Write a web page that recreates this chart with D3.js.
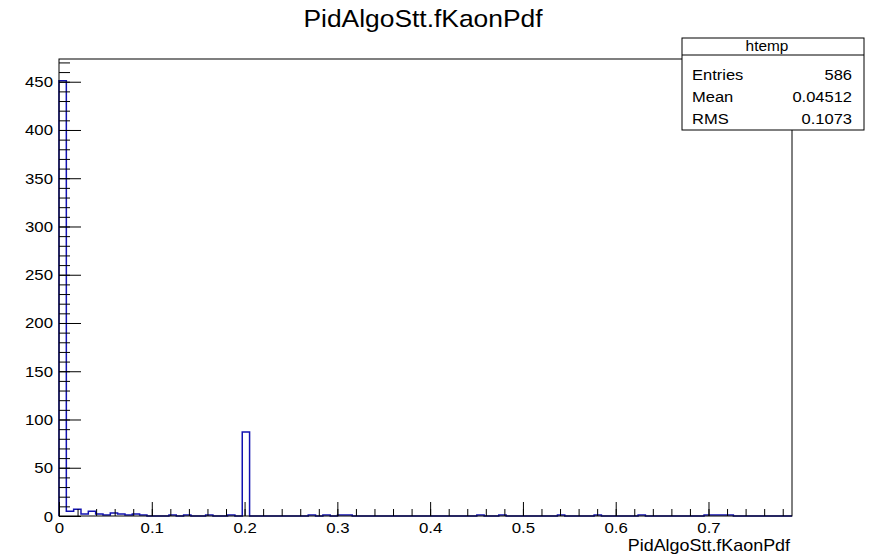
<!DOCTYPE html>
<html><head><meta charset="utf-8">
<script src="https://cdn.jsdelivr.net/npm/d3@7"></script>
<style>body{margin:0;background:#fff}svg{display:block}text{font-family:"Liberation Sans",Arial,Helvetica,sans-serif;fill:#000}</style>
</head><body>
<script>
// ---- data ----
const title = "PidAlgoStt.fKaonPdf";
const xTitle = "PidAlgoStt.fKaonPdf";
const xMin = 0, xMax = 0.79, nBins = 100;
const counts = [
 451,5,7,2,5,2,1,3,2,1, 2,1,0,0,0,1,0,1,0,0,
 1,0,0,1,0,87,0,0,0,0, 0,0,0,0,1,0,1,0,1,1,
 0,0,0,0,0,0,0,0,0,0, 0,0,0,0,0,0,0,1,0,0,
 1,0,0,0,0,0,0,0,1,0, 0,0,0,1,0,0,0,0,0,1,
 0,0,0,0,0,0,0,0,1,1, 1,1,0,0,0,0,0,0,0,0];
const xTickValues = [0,0.1,0.2,0.3,0.4,0.5,0.6,0.7];
const xTickLabels = ["0","0.1","0.2","0.3","0.4","0.5","0.6","0.7"];
const yTickValues = [0,50,100,150,200,250,300,350,400,450];
const statsName = "htemp";
const statsLabels = ["Entries","Mean","RMS"];
const statsValues = ["586","0.04512","0.1073"];

// ---- layout ----
const W = 871, H = 557;
const L = 59, R = 792, T = 59, B = 516;
const sx = 1.12;
const svg = d3.select("body").append("svg").attr("width", W).attr("height", H);

const ymax = d3.max(counts) * 1.05;
const x = d3.scaleLinear().domain([xMin, xMax]).range([L, R]);
const y = d3.scaleLinear().domain([0, ymax]).range([B, T]);
const bw = (xMax - xMin) / nBins;

// histogram outline
let p = d3.path();
p.moveTo(x(xMin), y(0));
counts.forEach((c, i) => {
  p.lineTo(x(xMin + i * bw), y(c));
  p.lineTo(x(xMin + (i + 1) * bw), y(c));
});
p.lineTo(x(xMax), y(0));
svg.append("path").attr("d", p.toString()).attr("fill", "none")
  .attr("stroke", "#1212b0").attr("stroke-width", 1.5);

// x axis minor ticks
const xMinor = d3.range(0, xMax + 1e-9, 0.02).map(v => +v.toFixed(3));
svg.append("g").attr("transform", `translate(0,${B})`)
  .call(d3.axisBottom(x).tickValues(xMinor).tickSize(-7).tickFormat(""))
  .call(g => g.select(".domain").remove())
  .selectAll("line").attr("stroke", "#000");
const gx = svg.append("g").attr("transform", `translate(0,${B})`)
  .call(d3.axisBottom(x).tickValues(xTickValues).tickSizeInner(-14).tickSizeOuter(0)
    .tickFormat((d, i) => xTickLabels[i]));
gx.select(".domain").remove();
gx.selectAll("line").attr("stroke", "#000");
gx.selectAll("text").attr("y", 0).attr("dy", null)
  .attr("transform", `translate(0,17) scale(${sx},1)`)
  .style("font-size", "15px").style("font-family", '"Liberation Sans",Arial,sans-serif').attr("fill", "#000");

// y axis
const yMinor = d3.range(0, ymax, 10);
svg.append("g").attr("transform", `translate(${L},0)`)
  .call(d3.axisLeft(y).tickValues(yMinor).tickSize(-11).tickFormat(""))
  .call(g => g.select(".domain").remove())
  .selectAll("line").attr("stroke", "#000");
const gy = svg.append("g").attr("transform", `translate(${L},0)`)
  .call(d3.axisLeft(y).tickValues(yTickValues).tickSizeInner(-22).tickSizeOuter(0).tickFormat(d3.format("d")));
gy.select(".domain").remove();
gy.selectAll("line").attr("stroke", "#000");
gy.selectAll("text").attr("x", 0).attr("dy", null).attr("y", 0)
  .attr("transform", `translate(-6,5) scale(${sx},1)`)
  .style("font-size", "15px").style("font-family", '"Liberation Sans",Arial,sans-serif').attr("fill", "#000");

// frame
svg.append("rect").attr("x", L).attr("y", T).attr("width", R - L).attr("height", B - T)
  .attr("fill", "none").attr("stroke", "#000").attr("stroke-width", 1);

// title
svg.append("text").attr("transform", `translate(423,27) scale(1.1,1)`)
  .attr("text-anchor", "middle").style("font-size", "24px").text(title);

// x axis title
svg.append("text").attr("transform", `translate(790,551) scale(${sx},1)`)
  .attr("text-anchor", "end").style("font-size", "16px").text(xTitle);

// stats box
const bx0 = 682, bx1 = 864, by0 = 38, by1 = 130, bh = 55;
svg.append("rect").attr("x", bx0).attr("y", by0).attr("width", bx1 - bx0).attr("height", by1 - by0)
  .attr("fill", "#fff").attr("stroke", "#000");
svg.append("line").attr("x1", bx0).attr("x2", bx1).attr("y1", bh).attr("y2", bh).attr("stroke", "#000");
svg.append("text").attr("transform", `translate(767,51) scale(1.1,1)`).attr("text-anchor", "middle")
  .style("font-size", "14px").text(statsName);
const rowY = [80, 102, 124];
statsLabels.forEach((s, i) => {
  svg.append("text").attr("transform", `translate(692,${rowY[i]}) scale(1.1,1)`)
    .style("font-size", "15px").text(s);
  svg.append("text").attr("transform", `translate(852,${rowY[i]}) scale(1.1,1)`).attr("text-anchor", "end")
    .style("font-size", "15px").text(statsValues[i]);
});
</script>
</body></html>
